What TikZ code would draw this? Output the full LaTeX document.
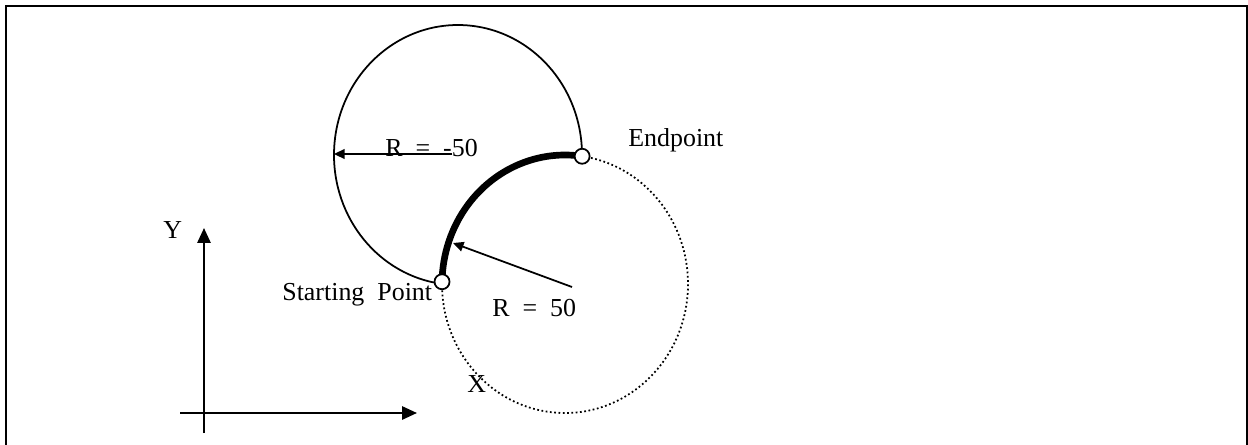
\documentclass[tikz,border=0pt]{standalone}
\usepackage{fontspec}
\setmainfont{Liberation Serif}
\usetikzlibrary{arrows.meta}

\begin{document}
\begin{tikzpicture}[x=0.02cm,y=0.02cm,
    lbl/.style={inner sep=0pt,anchor=base west,font=\fontsize{14.75}{17}\selectfont},
    pt/.style={circle,draw,fill=white,line width=1pt,inner sep=0pt,minimum size=0.3cm},
    axis/.style={line width=1.3pt,-{Triangle[length=8.5pt,width=7.5pt]}},
    radius arrow/.style={line width=1pt,-{Triangle[length=6pt,width=5.5pt]}},
    dotline/.style={line width=1pt,dash pattern=on 1pt off 1.45pt}]
                \useasboundingbox (0,0) rectangle (1248,444);
                \draw[line width=1.1pt](6,-20) rectangle (1247,438);
                \coordinate (Cup) at (458,289);
                \coordinate (Clow) at (565,160);
                \coordinate (Lup) at ([shift={(180:124 and 130)}]Cup);
                \coordinate (Rtail) at (452,290);
                \coordinate (rtail) at (572,157);
                \coordinate (rtip) at (453,201);
                % circles
                \draw[line width=1pt]([shift={(-1.5:124 and 130)}]Cup) arc[start angle=-1.5,end angle=262.6,x radius=124,y radius=130];
                \draw[dotline]([shift={(179:123 and 129)}]Clow) arc[start angle=179,end angle=442,x radius=123,y radius=129];
                \draw[line width=3.8pt]([shift={(82:123 and 129)}]Clow) arc[start angle=82,end angle=179,x radius=123,y radius=129];
                \node[pt](start) at ([shift={(179:123 and 129)}]Clow){};
                \node[pt](end) at ([shift={(82:123 and 129)}]Clow){};
                % radii
                \draw[radius arrow](Rtail)--(Rtail-|Lup);
                \draw[radius arrow](rtail)--(rtip);
                \node[lbl](Rneg) at (385,288){R\ \ =\ \ -50};
                \node[lbl](Rpos) at (492,128){R\ \ =\ \ 50};
                \node[lbl](endlbl) at (628,298){Endpoint};
                \node[lbl](startlbl) at (282,144){Starting\ \ Point};
                % axes
                \coordinate (ybot) at (204,11);
                \coordinate (ytop) at (204,216);
                \coordinate (xleft) at (180,31);
                \coordinate (xright) at (417,31);
                \draw[axis](ybot)--(ytop);
                \draw[axis](xleft)--(xright);
                \node[lbl](ylbl) at (163,206){Y};
                \node[lbl](xlbl) at (467,52){X};
            \end{tikzpicture}
\end{document}
